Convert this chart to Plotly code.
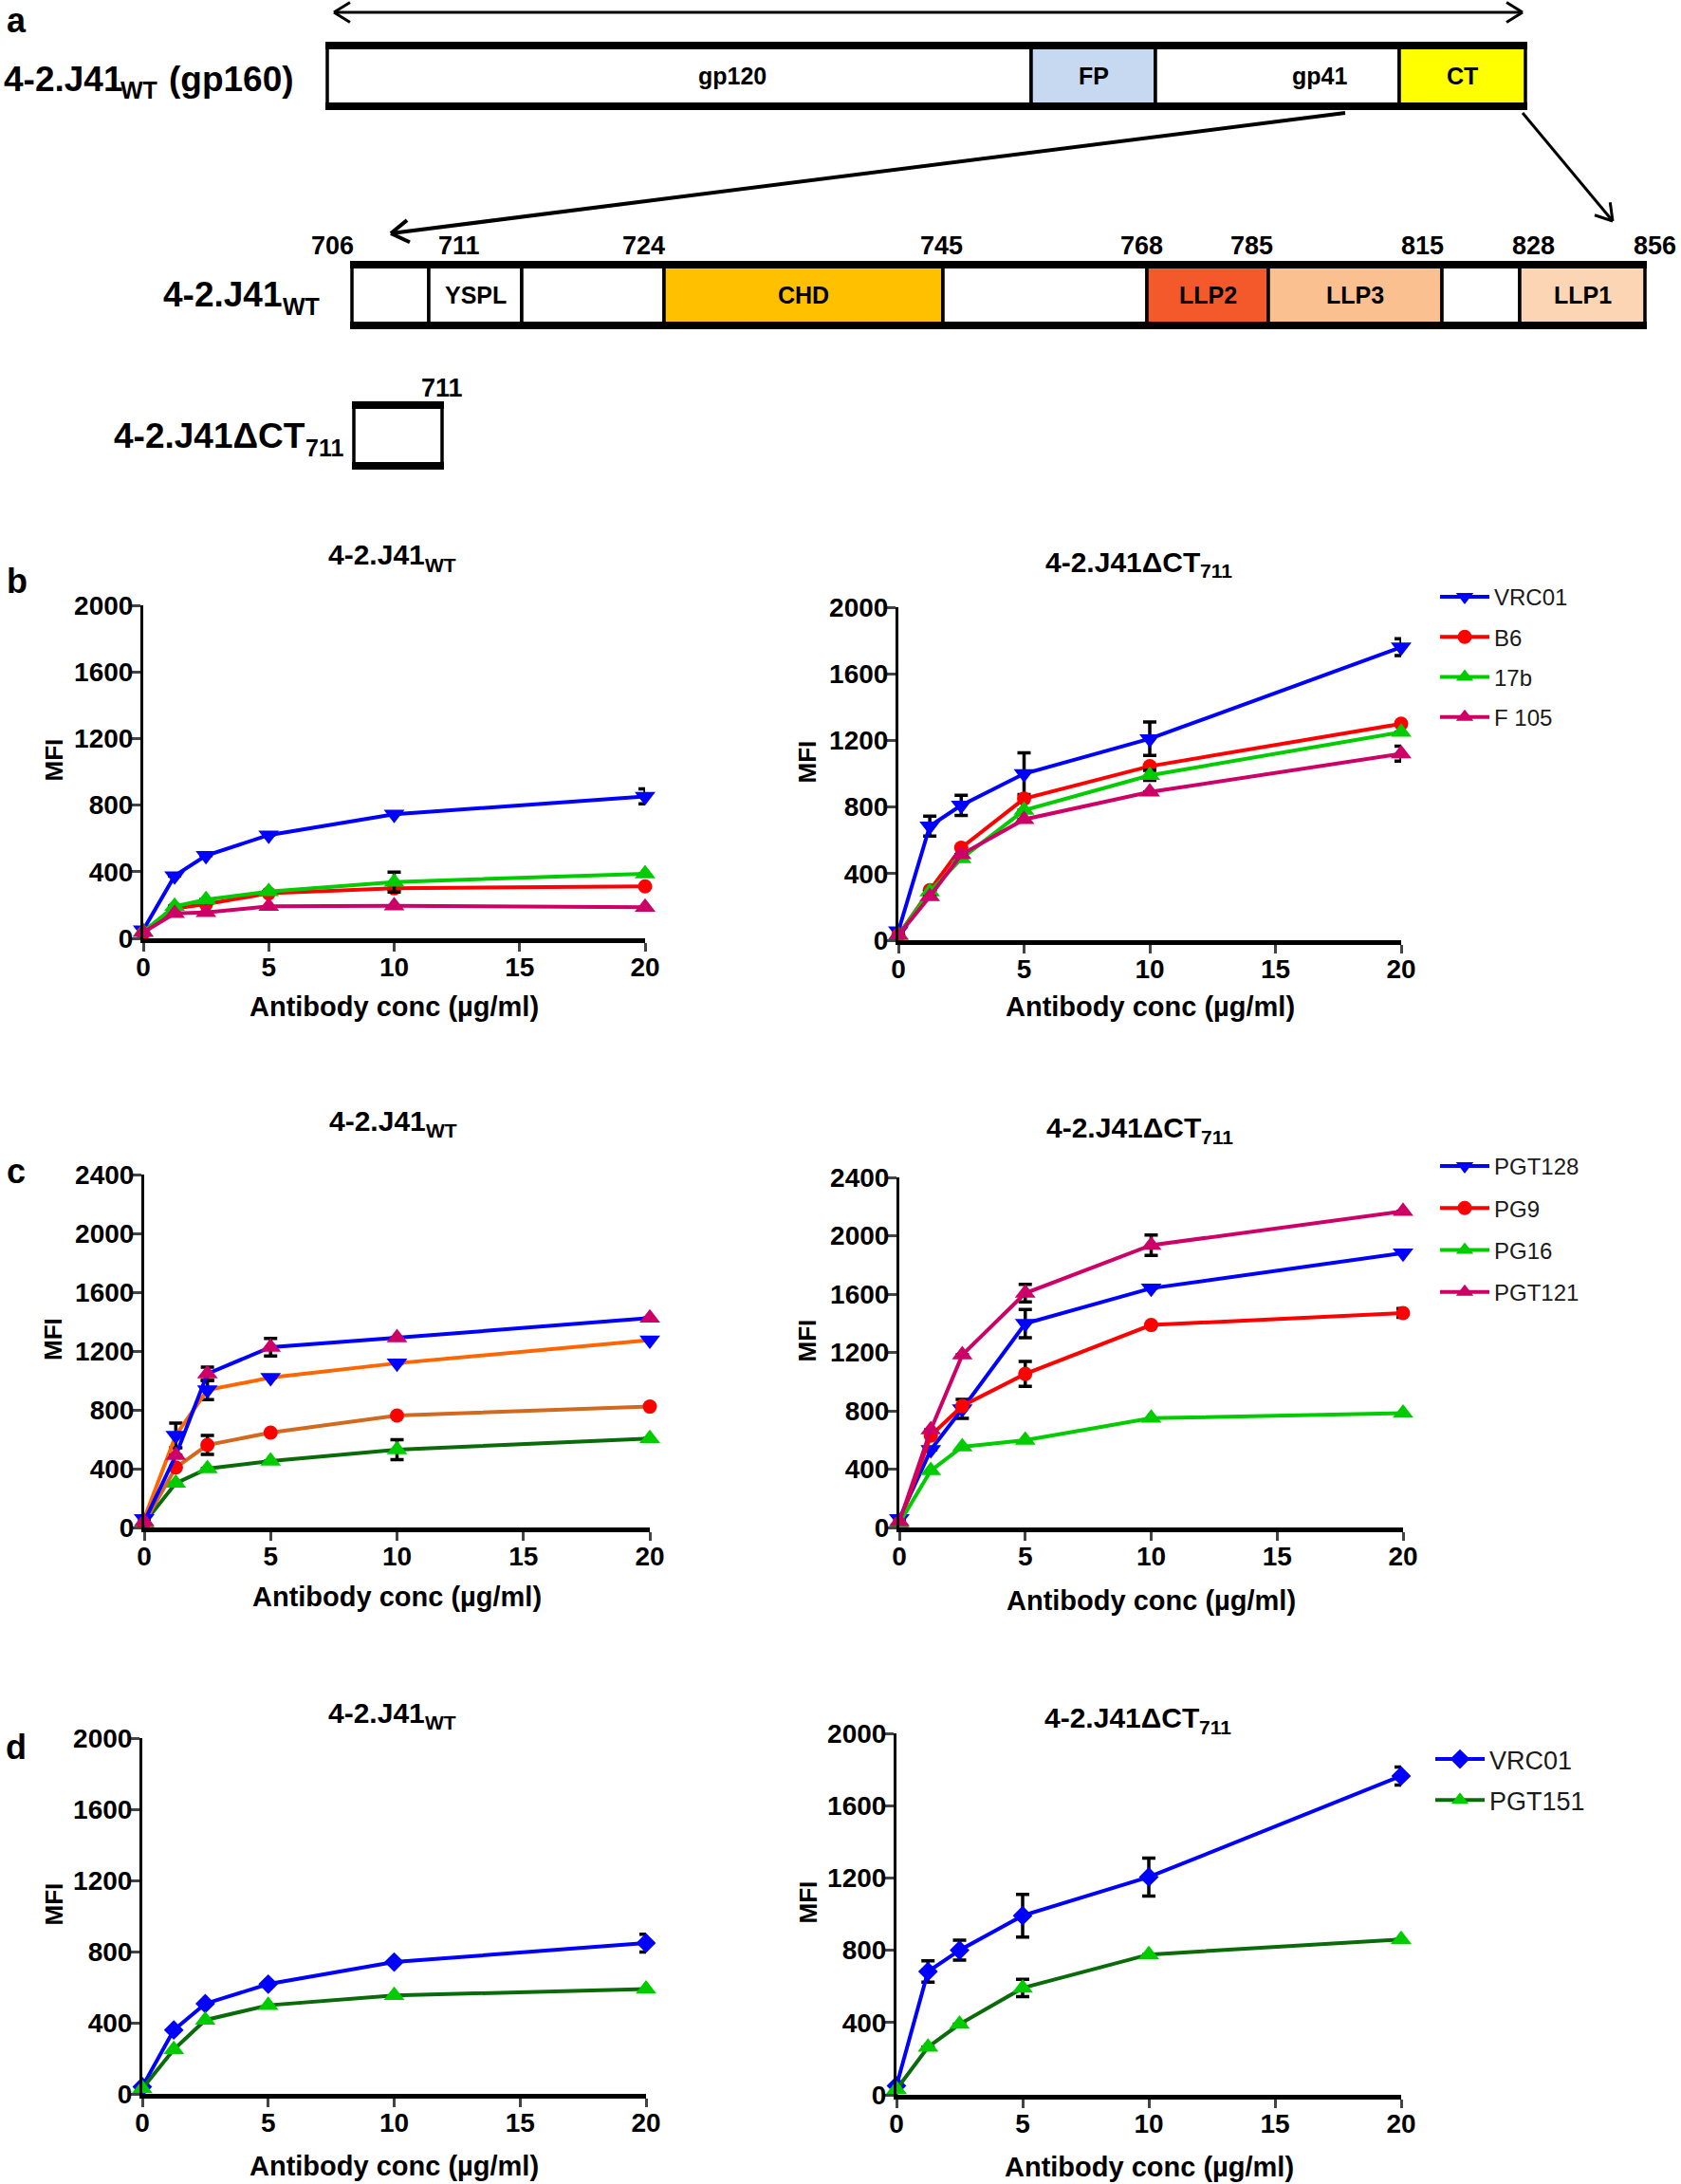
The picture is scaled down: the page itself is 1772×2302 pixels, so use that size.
import math
import plotly.graph_objects as go

W, H = 1772, 2302
FONT = "Liberation Sans, Arial, sans-serif"

# ---------------- data ----------------
conc = [0, 1.25, 2.5, 5, 10, 20]
x_ticks = [0, 5, 10, 15, 20]
y_ticks_2000 = [0, 400, 800, 1200, 1600, 2000]
y_ticks_2400 = [0, 400, 800, 1200, 1600, 2000, 2400]
N = None

# panel b (WT)
b_wt_vrc01 = [50, 375, 497, 620, 745, 852]
b_wt_vrc01_err = [N, N, N, N, N, 45]
b_wt_b6 = [30, 180, 205, 270, 300, 312]
b_wt_17b = [40, 192, 232, 280, 338, 388]
b_wt_17b_err = [N, N, N, N, 60, N]
b_wt_f105 = [35, 150, 155, 192, 195, 186]
# panel b (dCT711)
b_ct_vrc01 = [55, 685, 810, 1000, 1210, 1760]
b_ct_vrc01_err = [N, 60, 60, 125, 100, 50]
b_ct_b6 = [30, 300, 555, 850, 1045, 1300]
b_ct_17b = [30, 290, 490, 780, 990, 1250]
b_ct_17b_err = [N, N, N, N, 30, N]
b_ct_f105 = [30, 262, 514, 725, 890, 1120]
b_ct_f105_err = [N, N, N, N, N, 45]
# panel c (WT)
c_wt_pgt128 = [60, 626, 935, 1019, 1117, 1275]
c_wt_pgt128_err = [N, 84, 65, N, N, N]
c_wt_pg9 = [30, 408, 561, 645, 761, 822]
c_wt_pg9_err = [N, N, 65, N, N, N]
c_wt_pg16 = [30, 301, 400, 452, 529, 605]
c_wt_pg16_err = [N, N, N, N, 68, N]
c_wt_pgt121 = [40, 490, 1045, 1226, 1290, 1424]
c_wt_pgt121_err = [N, N, 45, 60, N, N]
# panel c (dCT711)
c_ct_pgt128 = [60, 533, 813, 1398, 1640, 1881]
c_ct_pgt128_err = [N, N, 65, 97, N, N]
c_ct_pg9 = [30, 630, 833, 1053, 1388, 1470]
c_ct_pg9_err = [N, N, N, 85, N, 30]
c_ct_pg16 = [30, 390, 553, 598, 749, 784]
c_ct_pgt121 = [40, 670, 1183, 1606, 1935, 2167]
c_ct_pgt121_err = [N, N, N, 60, 70, N]
# panel d (WT)
d_wt_vrc01 = [40, 359, 507, 617, 741, 848]
d_wt_vrc01_err = [N, N, N, N, N, 50]
d_wt_pgt151 = [30, 249, 415, 498, 553, 590]
# panel d (dCT711)
d_ct_vrc01 = [50, 682, 800, 991, 1205, 1764]
d_ct_vrc01_err = [N, 59, 55, 118, 105, 50]
d_ct_pgt151 = [30, 264, 391, 591, 776, 860]
d_ct_pgt151_err = [N, N, N, 48, N, N]

# panel a schematic (schematic units)
gp160_labels = ["gp120", "FP", "gp41", "CT"]
gp160_edges = [345, 1087, 1218, 1475, 1608]
gp160_label_shift = [56, 0, 44, 0]
gp160_colors = ["#FFFFFF", "#C6D9F1", "#FFFFFF", "#FFFF00"]
ct_labels = ["", "YSPL", "", "CHD", "", "LLP2", "LLP3", "", "LLP1"]
ct_edges = [371, 452, 550, 700, 994, 1209, 1337, 1520, 1602, 1734]
ct_label_shift = [0, 0, 0, 0, 0, 0, 0, 0, 0]
ct_colors = ["#FFFFFF", "#FFFFFF", "#FFFFFF", "#FFC000", "#FFFFFF",
             "#F4592C", "#FAC090", "#FFFFFF", "#FCD5B4"]
ct_residues = ["706", "711", "724", "745", "768", "785", "815", "828", "856"]
ct_residue_pos = [350, 484, 678, 992, 1203, 1319, 1499, 1616, 1744]
dct_edges = [373, 466]

BLUE, RED, GREEN, MAG = "#0000FF", "#FF0000", "#00CC00", "#CC0066"
ORANGE, BROWN, DKGREEN = "#FF6600", "#D2691E", "#0B6B0B"

fig = go.Figure()


def fx(p):
    return p / W


def fy(p):
    return 1 - p / H


# axis placements (pixels): left, right, top, bottom, ymax
panels = [
    (151, 680, 638, 989, 2000),
    (947, 1477, 640, 991, 2000),
    (152, 685, 1238, 1610, 2400),
    (948, 1479, 1241, 1610, 2400),
    (150, 681, 1832, 2207, 2000),
    (945, 1477, 1827, 2208, 2000),
]

MSIZE = {"triangle-up": 19, "triangle-down": 19, "circle": 15, "diamond": 16}


def add_series(i, name, y, err, mcol, lcol, sym, legend=None):
    kw = {}
    if err is not None:
        kw["error_y"] = dict(type="data", array=err, color="black",
                             thickness=3.5, width=7)
    fig.add_trace(go.Scatter(
        x=conc, y=y, name=name, mode="lines+markers",
        xaxis="x%d" % i, yaxis="y%d" % i,
        line=dict(color=lcol, width=4),
        marker=dict(color=mcol, symbol=sym, size=MSIZE[sym], line=dict(width=0)),
        cliponaxis=False, showlegend=legend is not None,
        legend=legend if legend else "legend",
        legendgroup=name + str(i), hoverinfo="skip", **kw))


# b
add_series(1, "VRC01", b_wt_vrc01, b_wt_vrc01_err, BLUE, BLUE, "triangle-down")
add_series(1, "B6", b_wt_b6, None, RED, RED, "circle")
add_series(1, "17b", b_wt_17b, b_wt_17b_err, GREEN, GREEN, "triangle-up")
add_series(1, "F 105", b_wt_f105, None, MAG, MAG, "triangle-up")
add_series(2, "VRC01", b_ct_vrc01, b_ct_vrc01_err, BLUE, BLUE, "triangle-down", "legend")
add_series(2, "B6", b_ct_b6, None, RED, RED, "circle", "legend")
add_series(2, "17b", b_ct_17b, b_ct_17b_err, GREEN, GREEN, "triangle-up", "legend")
add_series(2, "F 105", b_ct_f105, b_ct_f105_err, MAG, MAG, "triangle-up", "legend")
# c
add_series(3, "PG16", c_wt_pg16, c_wt_pg16_err, GREEN, DKGREEN, "triangle-up")
add_series(3, "PG9", c_wt_pg9, c_wt_pg9_err, RED, BROWN, "circle")
add_series(3, "PGT128", c_wt_pgt128, c_wt_pgt128_err, BLUE, ORANGE, "triangle-down")
add_series(3, "PGT121", c_wt_pgt121, c_wt_pgt121_err, MAG, BLUE, "triangle-up")
add_series(4, "PGT128", c_ct_pgt128, c_ct_pgt128_err, BLUE, BLUE, "triangle-down", "legend2")
add_series(4, "PG9", c_ct_pg9, c_ct_pg9_err, RED, RED, "circle", "legend2")
add_series(4, "PG16", c_ct_pg16, None, GREEN, GREEN, "triangle-up", "legend2")
add_series(4, "PGT121", c_ct_pgt121, c_ct_pgt121_err, MAG, MAG, "triangle-up", "legend2")
# d
add_series(5, "VRC01", d_wt_vrc01, d_wt_vrc01_err, BLUE, BLUE, "diamond")
add_series(5, "PGT151", d_wt_pgt151, None, GREEN, DKGREEN, "triangle-up")
add_series(6, "VRC01", d_ct_vrc01, d_ct_vrc01_err, BLUE, BLUE, "diamond", "legend3")
add_series(6, "PGT151", d_ct_pgt151, d_ct_pgt151_err, GREEN, DKGREEN, "triangle-up", "legend3")

tickfont = dict(family=FONT, size=28, color="black", weight="bold")
layout = dict(
    width=W, height=H, margin=dict(l=0, r=0, t=0, b=0, autoexpand=False),
    paper_bgcolor="white", plot_bgcolor="rgba(0,0,0,0)",
    barmode="overlay", showlegend=True,
)
for i, (l, r, t, b, ymax) in enumerate(panels, start=1):
    layout["xaxis%d" % i] = dict(
        domain=[fx(l), fx(r)], range=[0, 20], anchor="y%d" % i,
        tickvals=x_ticks, ticks="outside", ticklen=9, tickwidth=3,
        ticklabelstandoff=-8, automargin=False,
        showline=True, linewidth=5, linecolor="black", showgrid=False,
        zeroline=False, tickfont=tickfont, fixedrange=True)
    layout["yaxis%d" % i] = dict(
        domain=[fy(b), fy(t)], range=[0, ymax], anchor="x%d" % i,
        tickvals=y_ticks_2400 if ymax == 2400 else y_ticks_2000,
        ticks="outside", ticklen=9, tickwidth=3,
        ticklabelstandoff=-7, automargin=False,
        showline=True, linewidth=3, linecolor="black", showgrid=False,
        zeroline=False, tickfont=tickfont, fixedrange=True)

# schematic axis for panel a (1 unit = 1 px)
layout["xaxis7"] = dict(domain=[0, 1], range=[0, W], anchor="y7", visible=False,
                        fixedrange=True, automargin=False)
layout["yaxis7"] = dict(domain=[fy(540), 1], range=[540, 0], anchor="x7",
                        visible=False, fixedrange=True, automargin=False)

legfont = dict(family=FONT, size=24, color="#1a1a1a")
layout["legend"] = dict(x=fx(1513), y=fy(607), xanchor="left", yanchor="top",
                        font=legfont, itemwidth=52, tracegroupgap=8,
                        traceorder="grouped", bgcolor="rgba(0,0,0,0)")
layout["legend2"] = dict(x=fx(1513), y=fy(1207), xanchor="left", yanchor="top",
                         font=legfont, itemwidth=52, tracegroupgap=10,
                         traceorder="grouped", bgcolor="rgba(0,0,0,0)")
layout["legend3"] = dict(x=fx(1508), y=fy(1830), xanchor="left", yanchor="top",
                         font=dict(family=FONT, size=27, color="#1a1a1a"),
                         itemwidth=52, tracegroupgap=5,
                         traceorder="grouped", bgcolor="rgba(0,0,0,0)")
fig.update_layout(**layout)

ann = []


def txt(x, y, s, size, xanchor="center", yanchor="middle", ref="paper",
        weight="bold", angle=0, color="black"):
    if ref == "paper":
        d = dict(xref="paper", yref="paper", x=fx(x), y=fy(y))
    else:
        d = dict(xref="x7", yref="y7", x=x, y=y)
    d.update(text=s, showarrow=False, xanchor=xanchor, yanchor=yanchor,
             textangle=angle,
             font=dict(family=FONT, size=size, color=color, weight=weight))
    ann.append(d)


def sub_label(xsplit, y, main, sub, size, subsize, dy):
    # main text ends at xsplit, subscript starts there (lowered)
    txt(xsplit + 2, y, main, size, xanchor="right")
    txt(xsplit - 2, y + dy, sub, subsize, xanchor="left")


# ---- panel a schematic as bars on the schematic axis ----
def add_row(edges, labels, colors, yc, shifts, thick=64):
    n = len(edges) - 1
    fig.add_trace(go.Bar(
        orientation="h", y=[yc] * n,
        x=[edges[k + 1] - edges[k] for k in range(n)],
        base=edges[:-1], width=[thick] * n,
        marker=dict(color=colors, line=dict(color="black", width=3.5)),
        textposition="none",
        xaxis="x7", yaxis="y7", showlegend=False, hoverinfo="skip"))
    for yy in (yc - thick / 2, yc + thick / 2):
        fig.add_shape(type="line", xref="x7", yref="y7", x0=edges[0] - 2,
                      x1=edges[-1] + 2, y0=yy, y1=yy,
                      line=dict(color="black", width=8))
    for k, lab in enumerate(labels):
        if lab:
            txt((edges[k] + edges[k + 1]) / 2 + shifts[k], yc, lab, 25, ref="x7")


add_row(gp160_edges, gp160_labels, gp160_colors, 80, gp160_label_shift)
add_row(ct_edges, ct_labels, ct_colors, 311, ct_label_shift)
add_row(dct_edges, [""], ["#FFFFFF"], 459, [0])


def arrow(x0, y0, x1, y1, width=3.5, head=20, both=False):
    fig.add_shape(type="line", xref="x7", yref="y7", x0=x0, y0=y0, x1=x1, y1=y1,
                  line=dict(color="black", width=width))
    ends = [(x1, y1, x0, y0)] + ([(x0, y0, x1, y1)] if both else [])
    for ex, ey, sx, sy in ends:
        ang = math.atan2(ey - sy, ex - sx)
        for s in (1, -1):
            a = ang + math.pi + s * math.radians(32)
            fig.add_shape(type="line", xref="x7", yref="y7", x0=ex, y0=ey,
                          x1=ex + head * math.cos(a), y1=ey + head * math.sin(a),
                          line=dict(color="black", width=width))


arrow(352, 13, 1605, 13, width=3, head=20, both=True)
arrow(1418, 119, 412, 246, width=4, head=22)
arrow(1605, 119, 1700, 233, width=3, head=20)

# residue numbers
for s, xp in zip(ct_residues, ct_residue_pos):
    txt(xp, 259, s, 27, ref="x7")
txt(466, 409, "711", 27, ref="x7")

# row labels (main text + lowered subscript)
txt(2, 83, "4-2.J41", 37, xanchor="left")
txt(125, 95, "WT", 25, xanchor="left")
txt(176, 83, "(gp160)", 37, xanchor="left")
sub_label(298, 310, "4-2.J41", "WT", 37, 25, 13)
sub_label(322, 459, "4-2.J41\u0394CT", "711", 37, 25, 13)

# panel letters
txt(17, 22, "a", 36)
txt(18, 612, "b", 36)
txt(17, 1234, "c", 36)
txt(17, 1841, "d", 36)

# plot titles
titles_wt = [(448, 585), (449, 1181), (448, 1805)]
titles_ct = [(1265, 592), (1266, 1188), (1264, 1810)]
for x, y in titles_wt:
    sub_label(x, y, "4-2.J41", "WT", 30, 21, 10)
for x, y in titles_ct:
    sub_label(x, y, "4-2.J41\u0394CT", "711", 30, 21, 10)

# axis titles
xt_y = [1061, 1061, 1683, 1687, 2283, 2284]
for (l, r, t, b, ymax), yy in zip(panels, xt_y):
    txt((l + r) / 2, yy, "Antibody conc (\u00b5g/ml)", 29)
    txt(56 if l < 500 else 851, (t + b) / 2 - 12, "MFI", 26, angle=-90)

fig.update_layout(annotations=ann)
fig.write_html("out.html", config={"displayModeBar": False},
               post_script="document.body.style.margin='0px';"
                           "document.body.style.overflow='hidden';")
